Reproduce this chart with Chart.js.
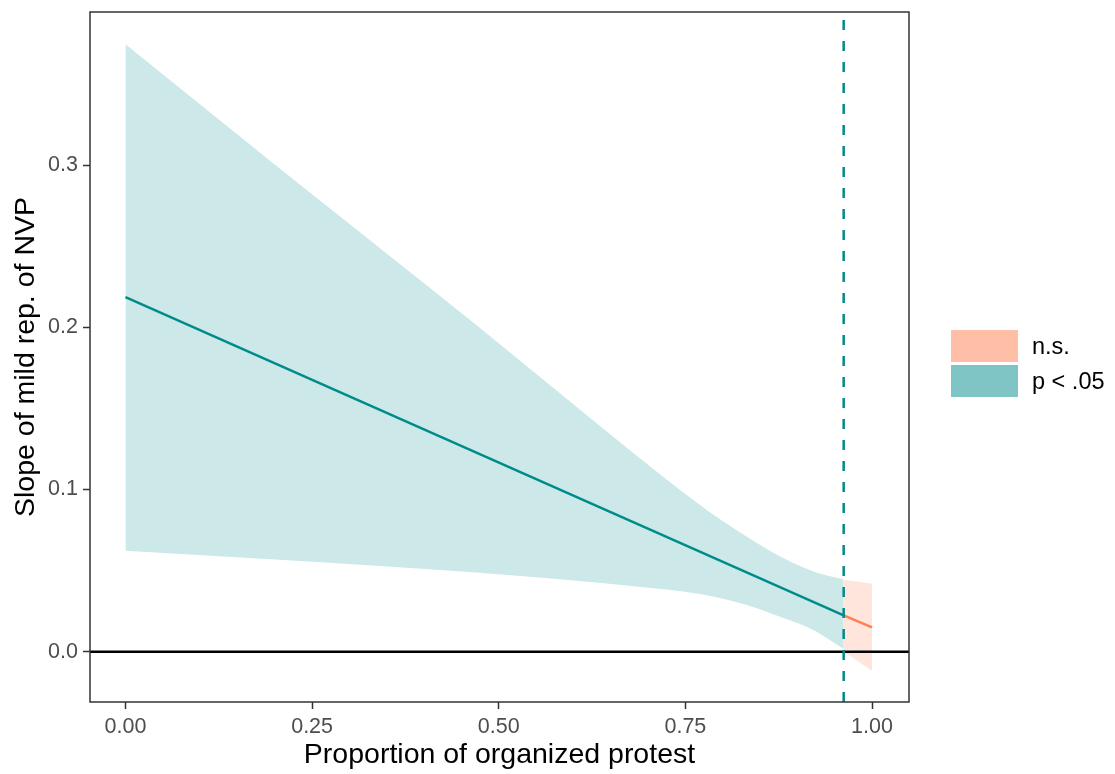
<!DOCTYPE html>
<html>
<head>
<meta charset="utf-8">
<script src="https://cdn.jsdelivr.net/npm/chart.js@4"></script>
<style>
  html, body { margin: 0; padding: 0; background: #fff; }
  canvas { display: block; }
</style>
</head>
<body>
<canvas id="chart" width="1115" height="774"></canvas>
<script>
// confidence band of the slope (p < .05 part)
const sigX = [0, 0.2062, 0.4741, 0.6348, 0.70, 0.742, 0.7865, 0.8313, 0.8759, 0.9205, 0.962];
const sigUpper = [0.3746, 0.2982, 0.2000, 0.1395, 0.1153, 0.1000, 0.0848, 0.0712, 0.0590, 0.0497, 0.0446];
const sigLower = [0.0622, 0.0567, 0.0487, 0.0425, 0.0394, 0.0374, 0.0341, 0.0290, 0.0217, 0.0136, 0.0017];

// n.s. part
const nsX = [0.962, 1.0];
const nsUpper = [0.0444, 0.0419];
const nsLower = [0.0002, -0.0117];

// fitted slope line
const sigLineX = [0, 0.962];
const sigLineY = [0.2187, 0.0224];
const nsLineX = [0.962, 1.0];
const nsLineY = [0.0224, 0.0150];

const cutoff = 0.962;
const xLimits = [-0.0475, 1.0495];
const yLimits = [-0.031, 0.3945];

const xTickValues = [0, 0.25, 0.5, 0.75, 1];
const xTickLabels = ["0.00", "0.25", "0.50", "0.75", "1.00"];
const yTickValues = [0, 0.1, 0.2, 0.3];
const yTickLabels = ["0.0", "0.1", "0.2", "0.3"];

const legendLabels = ["n.s.", "p < .05"];
const legendColors = ["rgba(255,127,80,0.5)", "rgba(0,139,139,0.5)"];

const TEAL = "#008B8B";
const CORAL = "#FF7F50";
const FONT = "'Liberation Sans', Arial, Helvetica, sans-serif";

const pts = (xs, ys) => xs.map((x, i) => ({ x: x, y: ys[i] }));

const ribbon = (xs, ys, fill, color) => ({
    data: pts(xs, ys),
    borderWidth: 0,
    borderColor: "rgba(0,0,0,0)",
    pointRadius: 0,
    fill: fill,
    backgroundColor: color,
    cubicInterpolationMode: "monotone",
    order: 3
});

// panel frame + legend
const extras = {
    id: "extras",
    afterDatasetsDraw(chart) {
        const { ctx, chartArea: a } = chart;
        ctx.save();
        ctx.strokeStyle = "#333333";
        ctx.lineWidth = 1.5;
        ctx.strokeRect(a.left, a.top, a.right - a.left, a.bottom - a.top);
        ctx.restore();
    },
    afterDraw(chart) {
        const ctx = chart.ctx;
        ctx.save();
        ctx.font = "23.5px " + FONT;
        ctx.textBaseline = "middle";
        ctx.textAlign = "left";
        legendLabels.forEach((lab, i) => {
            const top = 330 + i * 35;
            ctx.fillStyle = legendColors[i];
            ctx.fillRect(951, top, 67, 32);
            ctx.fillStyle = "#000";
            ctx.fillText(lab, 1032, top + 17.5);
        });
        ctx.restore();
    }
};

const tickGrid = {
    display: true,
    drawOnChartArea: false,
    drawTicks: true,
    tickLength: 7,
    tickColor: "#333333",
    tickWidth: 1.5,
    color: "#333333"
};

new Chart(document.getElementById("chart"), {
    type: "line",
    data: {
        datasets: [
            // dashed cutoff
            {
                data: [{ x: cutoff, y: yLimits[0] }, { x: cutoff, y: yLimits[1] }],
                borderColor: TEAL,
                borderWidth: 2.5,
                borderDash: [10, 11],
                pointRadius: 0,
                fill: false,
                order: 0
            },
            // zero line
            {
                data: [{ x: xLimits[0], y: 0 }, { x: xLimits[1], y: 0 }],
                borderColor: "#000",
                borderWidth: 2.5,
                pointRadius: 0,
                fill: false,
                order: 1
            },
            {
                data: pts(sigLineX, sigLineY),
                borderColor: TEAL,
                borderWidth: 2.5,
                pointRadius: 0,
                fill: false,
                order: 2
            },
            {
                data: pts(nsLineX, nsLineY),
                borderColor: CORAL,
                borderWidth: 2.5,
                pointRadius: 0,
                fill: false,
                order: 2
            },
            ribbon(sigX, sigUpper, "+1", "rgba(0,139,139,0.2)"),
            ribbon(sigX, sigLower, false, "rgba(0,139,139,0.2)"),
            ribbon(nsX, nsUpper, "+1", "rgba(255,127,80,0.2)"),
            ribbon(nsX, nsLower, false, "rgba(255,127,80,0.2)")
        ]
    },
    options: {
        responsive: false,
        animation: false,
        devicePixelRatio: 1,
        layout: { padding: { top: 12, right: 206, left: 0, bottom: 0 } },
        plugins: {
            legend: { display: false },
            tooltip: { enabled: false }
        },
        scales: {
            x: {
                type: "linear",
                min: xLimits[0],
                max: xLimits[1],
                afterBuildTicks: s => { s.ticks = xTickValues.map(v => ({ value: v })); },
                afterFit: s => { s.height = 72; s.paddingLeft = 0; s.paddingRight = 0; },
                grid: tickGrid,
                border: { display: false },
                ticks: {
                    padding: 5,
                    maxRotation: 0,
                    autoSkip: false,
                    color: "#4D4D4D",
                    font: { family: FONT, size: 21.5 },
                    callback: (v, i) => xTickLabels[i]
                },
                title: {
                    display: true,
                    text: "Proportion of organized protest",
                    color: "#000",
                    font: { family: FONT, size: 28.5 },
                    padding: { top: 0, bottom: 1.5 }
                }
            },
            y: {
                type: "linear",
                min: yLimits[0],
                max: yLimits[1],
                afterBuildTicks: s => { s.ticks = yTickValues.map(v => ({ value: v })); },
                afterFit: s => { s.width = 90; s.paddingTop = 0; s.paddingBottom = 0; },
                grid: tickGrid,
                border: { display: false },
                ticks: {
                    padding: 5,
                    autoSkip: false,
                    color: "#4D4D4D",
                    font: { family: FONT, size: 21.5 },
                    callback: (v, i) => yTickLabels[i]
                },
                title: {
                    display: true,
                    text: "Slope of mild rep. of NVP",
                    color: "#000",
                    font: { family: FONT, size: 28.5 },
                    padding: { top: 9.5, bottom: 0 }
                }
            }
        }
    },
    plugins: [extras]
});
</script>
</body>
</html>
